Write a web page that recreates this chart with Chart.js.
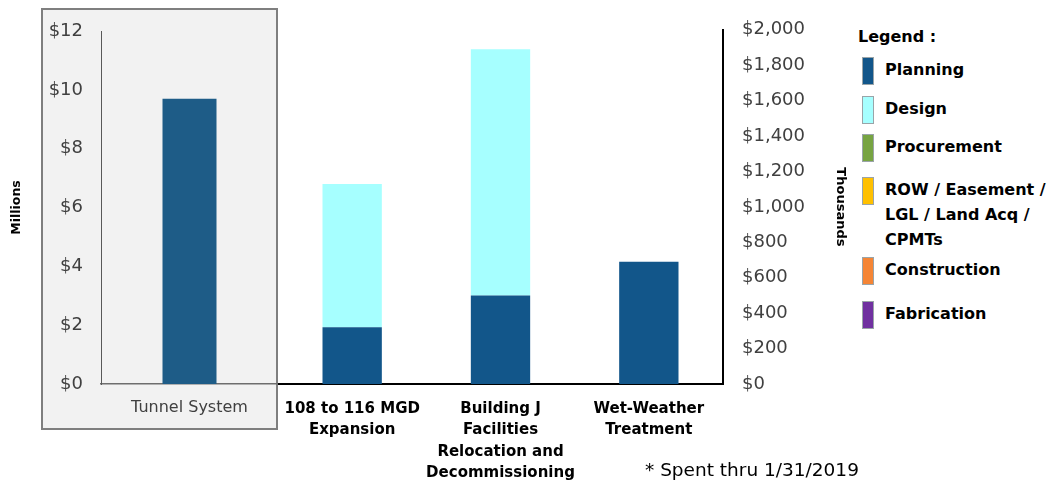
<!DOCTYPE html>
<html>
<head>
<meta charset="utf-8">
<script src="https://cdn.jsdelivr.net/npm/chart.js@4.4.1/dist/chart.umd.min.js"></script>
<style>
  html, body { margin: 0; padding: 0; background: #fff; }
  body { width: 1057px; height: 483px; position: relative; overflow: hidden; font-family: "DejaVu Sans", sans-serif; }
  #tunnel-box { position: absolute; left: 41px; top: 8px; width: 233px; height: 418px; background: #f2f2f2; border: 2px solid #7f7f7f; }
  #left-chart { position: absolute; left: 0; top: 0; }
  #right-chart { position: absolute; left: 278px; top: 0; }
  #legend { position: absolute; left: 0; top: 0; }
  .legend-title { position: absolute; left: 858px; top: 27px; font-weight: bold; font-size: 16px; color: #000; white-space: nowrap; }
  .legend-swatch { position: absolute; left: 862px; width: 10px; height: 26px; border: 1px solid #9aa4a8; }
  .legend-text { position: absolute; left: 885px; font-weight: bold; font-size: 16px; line-height: 25px; color: #000; white-space: nowrap; }
  #footnote { position: absolute; left: 645px; top: 459px; font-size: 18.5px; color: #000; white-space: nowrap; }
</style>
</head>
<body>
<div id="tunnel-box"></div>
<canvas id="left-chart" width="278" height="440"></canvas>
<canvas id="right-chart" width="580" height="483"></canvas>
<div id="legend"></div>
<div id="footnote">* Spent thru 1/31/2019</div>
<script>
// Left panel (Millions)
var LEFT_CATEGORIES = ['Tunnel System'];
var LEFT_PLANNING = [9.7];
var LEFT_TICKS = [0, 2, 4, 6, 8, 10, 12];

// Right panel (Thousands)
var RIGHT_CATEGORIES = [
  ['108 to 116 MGD', 'Expansion'],
  ['Building J', 'Facilities', 'Relocation and', 'Decommissioning'],
  ['Wet-Weather', 'Treatment']
];
var PLANNING = [320, 500, 690];
var DESIGN = [810, 1390, 0];
var PROCUREMENT = [0, 0, 0];
var ROW_LAND = [0, 0, 0];
var CONSTRUCTION = [0, 0, 0];
var FABRICATION = [0, 0, 0];
var RIGHT_TICKS = [0, 200, 400, 600, 800, 1000, 1200, 1400, 1600, 1800, 2000];

var PHASE_NAMES = ['Planning', 'Design', 'Procurement', ['ROW / Easement /', 'LGL / Land Acq /', 'CPMTs'], 'Construction', 'Fabrication'];
var PHASE_COLORS = ['#12568a', '#a6ffff', '#77a442', '#ffc000', '#f58535', '#7030a0'];
var PHASE_DATA = [PLANNING, DESIGN, PROCUREMENT, ROW_LAND, CONSTRUCTION, FABRICATION];

// legend layout (px from top of page)
var LEGEND_TOPS = [57, 96, 134, 177, 257, 301];

var FONT = '"DejaVu Sans", sans-serif';

function money(v) {
  return '$' + Number(v).toLocaleString('en-US');
}

// keep chart area edges fixed: no extra room for overhanging tick labels
function noSidePadding(s) {
  s.paddingLeft = 0;
  s.paddingRight = 0;
}

function renderLeft() {
  new Chart(document.getElementById('left-chart'), {
    type: 'bar',
    data: {
      labels: LEFT_CATEGORIES,
      datasets: [{
        label: 'Planning',
        data: LEFT_PLANNING,
        backgroundColor: '#1e5c87',
        borderWidth: 0,
        barPercentage: 0.305,
        categoryPercentage: 1
      }]
    },
    options: {
      responsive: false,
      animation: false,
      events: [],
      layout: { padding: { top: 31, right: 0, left: 0, bottom: 0 } },
      plugins: { legend: { display: false }, tooltip: { enabled: false } },
      scales: {
        x: {
          grid: { display: false, drawTicks: false },
          border: { display: true, color: '#6e6e6e', width: 1.5 },
          ticks: { color: '#404040', font: { family: FONT, size: 16 }, padding: 14, maxRotation: 0 },
          afterFit: function(s) { s.height = 56; noSidePadding(s); }
        },
        y: {
          min: 0,
          max: 12,
          afterBuildTicks: function(s) { s.ticks = LEFT_TICKS.map(function(v) { return { value: v }; }); },
          grid: { display: false, drawTicks: false },
          border: { display: true, color: '#595959', width: 1 },
          ticks: { color: '#404040', font: { family: FONT, size: 18 }, padding: 18, callback: money },
          title: { display: true, text: 'Millions', color: '#000', font: { family: FONT, size: 12.5, weight: 'bold' }, padding: { top: 9, bottom: 0 } },
          afterFit: function(s) { s.width = 101; }
        }
      }
    }
  });
}

function renderRight() {
  var datasets = PHASE_DATA.map(function(values, i) {
    var name = PHASE_NAMES[i];
    return {
      label: Array.isArray(name) ? name.join(' ') : name,
      data: values,
      backgroundColor: PHASE_COLORS[i],
      borderWidth: 0,
      barPercentage: 0.4,
      categoryPercentage: 1
    };
  });

  new Chart(document.getElementById('right-chart'), {
    type: 'bar',
    data: { labels: RIGHT_CATEGORIES, datasets: datasets },
    options: {
      responsive: false,
      animation: false,
      events: [],
      layout: { padding: { top: 29, right: 0, left: 0, bottom: 0 } },
      plugins: { legend: { display: false }, tooltip: { enabled: false } },
      scales: {
        x: {
          stacked: true,
          grid: { display: false, drawTicks: false },
          border: { display: true, color: '#000', width: 2 },
          ticks: { color: '#000', font: { family: FONT, size: 15, weight: 'bold', lineHeight: 1.43 }, padding: 14, maxRotation: 0, autoSkip: false },
          afterFit: function(s) { s.height = 99; noSidePadding(s); }
        },
        y: {
          stacked: true,
          position: 'right',
          min: 0,
          max: 2000,
          afterBuildTicks: function(s) { s.ticks = RIGHT_TICKS.map(function(v) { return { value: v }; }); },
          grid: { display: false, drawTicks: false },
          border: { display: true, color: '#000', width: 2 },
          ticks: { color: '#404040', font: { family: FONT, size: 18 }, padding: 19, callback: money },
          title: { display: true, text: 'Thousands', color: '#000', font: { family: FONT, size: 13, weight: 'bold' }, padding: { top: 10, bottom: 0 } },
          afterFit: function(s) { s.width = 135; }
        }
      }
    }
  });
}

function renderLegend() {
  var box = document.getElementById('legend');
  var html = '<div class="legend-title">Legend :</div>';
  PHASE_NAMES.forEach(function(name, i) {
    var top = LEGEND_TOPS[i];
    var lines = Array.isArray(name) ? name : [name];
    html += '<div class="legend-swatch" style="top:' + top + 'px;background:' + PHASE_COLORS[i] + ';"></div>';
    html += '<div class="legend-text" style="top:' + top + 'px;">' + lines.join('<br>') + '</div>';
  });
  box.innerHTML = html;
}

renderLeft();
renderRight();
renderLegend();
</script>
</body>
</html>
